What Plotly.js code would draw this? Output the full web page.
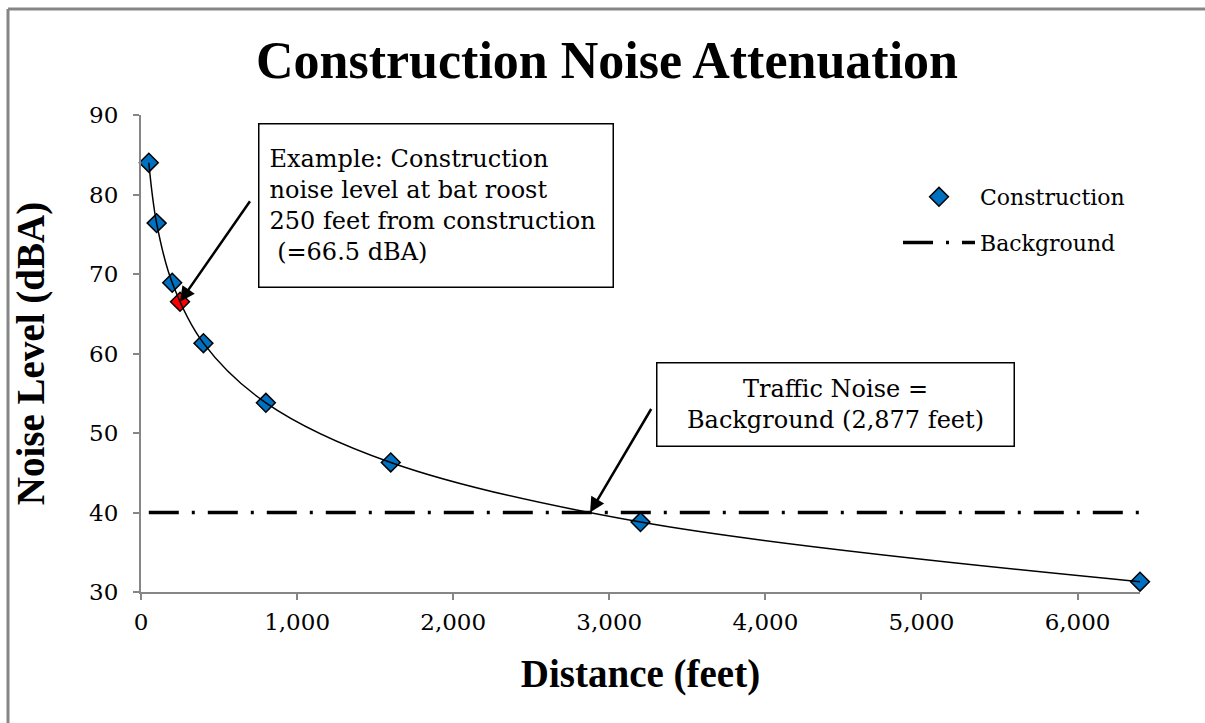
<!DOCTYPE html>
<html><head><meta charset="utf-8">
<script src="https://cdn.plot.ly/plotly-3.0.1.min.js"></script>
<style>html,body{margin:0;padding:0;background:#fff;overflow:hidden;}#chart{width:1205px;height:723px;}</style>
</head><body><div id="chart"></div>
<script>
// ---- data ----
const distances = [50, 100, 200, 400, 800, 1600, 3200, 6400];
const constructionLevels = [84, 76.4, 68.9, 61.3, 53.8, 46.3, 38.8, 31.3];
const exampleDistance = [250];
const exampleLevel = [66.5];
const backgroundDistances = [50, 6400];
const backgroundLevels = [40, 40];
const crossingDistance = 2877;
const xTicks = [0, 1000, 2000, 3000, 4000, 5000, 6000];
const yTicks = [30, 40, 50, 60, 70, 80, 90];

const SERIF = 'DejaVu Serif';
const TITLESERIF = 'Liberation Serif';
const AXISGRAY = '#868686';

const traces = [
  {
    x: backgroundDistances, y: backgroundLevels, mode: 'lines', name: 'Background',
    legendgroup: 'b', legendrank: 2, cliponaxis: false,
    line: {color: '#000', width: 3.5, dash: '30px,13px,3px,13px'}
  },
  {
    x: distances, y: constructionLevels, mode: 'markers', name: 'Construction',
    legendgroup: 'a', legendrank: 1, cliponaxis: false,
    marker: {symbol: 'diamond', size: 14.5, color: '#0070C0', line: {color: '#000', width: 1.5}}
  },
  {
    x: exampleDistance, y: exampleLevel, mode: 'markers', showlegend: false, cliponaxis: false,
    marker: {symbol: 'diamond', size: 14.5, color: '#FF0000', line: {color: '#000', width: 1.5}}
  },
  {
    x: distances, y: constructionLevels, mode: 'lines', showlegend: false, cliponaxis: false,
    line: {color: '#000', width: 1.5, shape: 'spline', smoothing: 1}
  }
];

const L = 141, R = 65, T = 115, B = 131, W = 1205, H = 723;
const pw = W - L - R, ph = H - T - B;
const px = v => (v - L) / pw;
const py = v => (H - B - v) / ph;

const layout = {
  width: W, height: H,
  margin: {l: L, r: R, t: T, b: B, pad: 0},
  paper_bgcolor: '#fff', plot_bgcolor: '#fff',
  title: {
    text: 'Construction Noise Attenuation',
    font: {family: TITLESERIF, size: 52, weight: 'bold', color: '#000'},
    xref: 'container', yref: 'container', x: 607 / W, y: 1 - 60 / H,
    xanchor: 'center', yanchor: 'middle'
  },
  xaxis: {
    range: [0, 6400], tickvals: xTicks, tickformat: ',', ticks: 'outside', ticklen: 6,
    tickcolor: AXISGRAY, tickwidth: 1.5, showline: true, linecolor: AXISGRAY, linewidth: 2,
    showgrid: false, zeroline: false, automargin: false, ticklabelstandoff: 2,
    tickfont: {family: SERIF, size: 23, color: '#000'},
    title: {text: 'Distance (feet)', standoff: 26,
      font: {family: TITLESERIF, size: 39, weight: 'bold', color: '#000'}}
  },
  yaxis: {
    range: [30, 90], tickvals: yTicks, ticks: 'outside', ticklen: 6,
    tickcolor: AXISGRAY, tickwidth: 1.5, showline: true, linecolor: AXISGRAY, linewidth: 2,
    showgrid: false, zeroline: false, automargin: false, ticklabelstandoff: 10,
    tickfont: {family: SERIF, size: 23, color: '#000'},
    title: {text: 'Noise Level (dBA)', standoff: 32,
      font: {family: TITLESERIF, size: 39, weight: 'bold', color: '#000'}}
  },
  showlegend: true,
  legend: {
    x: px(898), y: py(176), xanchor: 'left', yanchor: 'top',
    font: {family: SERIF, size: 22, color: '#000'},
    bgcolor: 'rgba(0,0,0,0)', borderwidth: 0,
    traceorder: 'grouped', tracegroupgap: 14, itemwidth: 72
  },
  annotations: [
    {
      xref: 'paper', yref: 'paper', x: px(435.5), y: py(205), xanchor: 'center', yanchor: 'middle',
      text: 'Example: Construction<br>noise level at bat roost<br>250 feet from construction<br>\u00a0(=66.5 dBA)',
      align: 'left', showarrow: false, width: 333, height: 142,
      font: {family: SERIF, size: 24, color: '#000'},
      bgcolor: '#fff', bordercolor: '#000', borderwidth: 1.5, borderpad: 10
    },
    {
      xref: 'x', yref: 'y', x: exampleDistance[0], y: exampleLevel[0], text: '',
      showarrow: true, ax: 71, ay: -102, arrowhead: 2, arrowsize: 1.2, arrowwidth: 2.5,
      arrowcolor: '#000', standoff: 0
    },
    {
      xref: 'paper', yref: 'paper', x: px(835), y: py(404), xanchor: 'center', yanchor: 'middle',
      text: 'Traffic Noise =<br>Background (2,877 feet)',
      align: 'center', showarrow: false, width: 336, height: 62,
      font: {family: SERIF, size: 24, color: '#000'},
      bgcolor: '#fff', bordercolor: '#000', borderwidth: 1.5, borderpad: 10
    },
    {
      xref: 'x', yref: 'y', x: crossingDistance, y: backgroundLevels[0], text: '',
      showarrow: true, ax: 62, ay: -105, arrowhead: 2, arrowsize: 1.2, arrowwidth: 2.5,
      arrowcolor: '#000', standoff: 0
    }
  ],
  shapes: [
    {type: 'line', xref: 'paper', yref: 'paper', x0: px(8), x1: px(1205), y0: py(9), y1: py(9),
      line: {color: AXISGRAY, width: 3}},
    {type: 'line', xref: 'paper', yref: 'paper', x0: px(8), x1: px(8), y0: py(9), y1: py(723),
      line: {color: AXISGRAY, width: 3}}
  ]
};

Plotly.newPlot('chart', traces, layout, {displayModeBar: false, responsive: false});
</script>
</body></html>
